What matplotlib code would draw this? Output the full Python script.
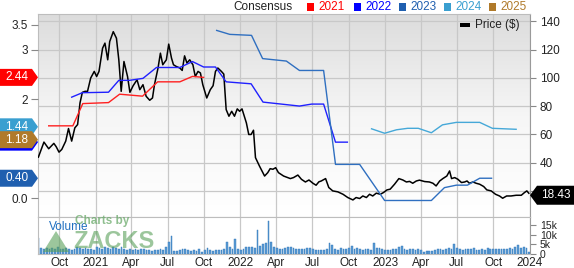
import matplotlib
matplotlib.use("Agg")
import matplotlib.pyplot as plt
from matplotlib.patches import Polygon, Rectangle
from matplotlib.colors import LinearSegmentedColormap
import numpy as np
import pandas as pd

plt.rcParams["font.family"] = ["Liberation Sans", "DejaVu Sans"]

# weekly-ish price readings ($)
price_dates = [
    "2020-08-09", "2020-08-23", "2020-09-04", "2020-09-17", "2020-09-23", "2020-09-30",
    "2020-10-07", "2020-10-17", "2020-10-24", "2020-11-01", "2020-11-09", "2020-11-16",
    "2020-11-22", "2020-11-28", "2020-12-05", "2020-12-11", "2020-12-19", "2020-12-28",
    "2021-01-03", "2021-01-09", "2021-01-18", "2021-01-24", "2021-01-31", "2021-02-05",
    "2021-02-14", "2021-02-22", "2021-02-28", "2021-03-06", "2021-03-13", "2021-03-22",
    "2021-03-28", "2021-04-05", "2021-04-15", "2021-04-22", "2021-04-30", "2021-05-08",
    "2021-05-17", "2021-05-24", "2021-05-29", "2021-06-07", "2021-06-13", "2021-06-19",
    "2021-06-28", "2021-07-04", "2021-07-11", "2021-07-16", "2021-07-23", "2021-08-01",
    "2021-08-07", "2021-08-13", "2021-08-19", "2021-08-26", "2021-09-03", "2021-09-09",
    "2021-09-16", "2021-09-22", "2021-09-28", "2021-10-08", "2021-10-17", "2021-10-24",
    "2021-10-30", "2021-11-05", "2021-11-14", "2021-11-20", "2021-11-26", "2021-12-03",
    "2021-12-10", "2021-12-17", "2021-12-24", "2021-12-30", "2022-01-05", "2022-01-16",
    "2022-01-22", "2022-01-28", "2022-02-03", "2022-02-08", "2022-02-18", "2022-03-03",
    "2022-03-11", "2022-03-17", "2022-03-24", "2022-03-31", "2022-04-07", "2022-04-20",
    "2022-05-07", "2022-05-15", "2022-05-26", "2022-06-04", "2022-06-14", "2022-06-23",
    "2022-07-03", "2022-07-11", "2022-07-18", "2022-07-24", "2022-08-04", "2022-08-12",
    "2022-08-22", "2022-09-04", "2022-09-17", "2022-09-29", "2022-10-12", "2022-10-20",
    "2022-10-29", "2022-11-06", "2022-11-15", "2022-11-23", "2022-12-01", "2022-12-10",
    "2022-12-20", "2022-12-28", "2023-01-06", "2023-01-14", "2023-01-25", "2023-02-05",
    "2023-02-15", "2023-02-24", "2023-03-04", "2023-03-12", "2023-03-21", "2023-03-29",
    "2023-04-11", "2023-04-23", "2023-05-02", "2023-05-10", "2023-05-19", "2023-05-27",
    "2023-06-06", "2023-06-13", "2023-06-18", "2023-06-26", "2023-07-04", "2023-07-13",
    "2023-07-21", "2023-07-27", "2023-08-02", "2023-08-11", "2023-08-19", "2023-08-28",
    "2023-09-07", "2023-09-15", "2023-09-26", "2023-10-07", "2023-10-17", "2023-10-25",
    "2023-11-04", "2023-11-15", "2023-11-28", "2023-12-11", "2023-12-19", "2023-12-25",
    "2023-12-30",
]
price_values = [
    44.0, 54.6, 49.9, 53.7, 51.3, 47.5,
    49.4, 55.3, 64.2, 55.3, 64.7, 67.0,
    82.3, 89.8, 90.5, 90.5, 99.9, 104.6,
    101.0, 104.6, 121.0, 124.6, 112.8, 125.7,
    132.7, 128.1, 112.8, 90.5, 111.6, 101.0,
    89.8, 94.4, 98.7, 91.7, 95.2, 87.0,
    84.2, 85.8, 95.2, 107.0, 117.5, 109.3,
    112.8, 123.9, 114.0, 109.3, 108.1, 107.0,
    105.3, 115.6, 110.5, 112.8, 109.3, 101.0,
    104.6, 103.5, 95.2, 85.8, 91.7, 94.5,
    104.6, 107.0, 104.6, 102.7, 77.6, 72.9,
    76.4, 72.9, 78.1, 76.4, 78.1, 68.2,
    60.0, 60.0, 63.0, 43.6, 37.7, 30.6,
    33.0, 35.8, 35.4, 36.5, 33.0, 30.6,
    28.8, 29.5, 31.3, 28.3, 26.4, 27.8,
    25.5, 24.1, 26.5, 27.1, 28.8, 22.5,
    20.1, 19.4, 17.7, 15.4, 13.7, 15.4,
    14.7, 16.5, 15.4, 17.7, 16.5, 18.5,
    17.7, 18.9, 20.8, 21.3, 24.8, 28.8,
    27.8, 26.4, 26.8, 25.5, 27.1, 27.7,
    26.7, 26.4, 25.5, 23.6, 27.1, 28.8,
    30.6, 34.2, 28.8, 29.5, 28.3, 26.0,
    26.4, 27.1, 25.5, 26.4, 25.5, 24.8,
    23.2, 20.8, 20.1, 17.7, 16.5, 14.9,
    16.5, 16.5, 17.0, 17.0, 18.9, 20.1,
    18.43,
]

# consensus EPS estimates
eps21_dates = ["2020-09-04", "2020-11-04", "2020-11-29", "2021-02-02", "2021-03-02",
               "2021-04-29", "2021-06-06", "2021-08-01", "2021-09-02", "2021-09-30"]
eps21_values = [1.46, 1.46, 1.91, 1.93, 2.10, 2.06, 2.35, 2.35, 2.46, 2.44]

eps22_dates = ["2020-11-01", "2020-11-28", "2021-02-02", "2021-02-28", "2021-03-27",
               "2021-04-30", "2021-06-03", "2021-08-01", "2021-09-02", "2021-09-30",
               "2021-10-30", "2021-11-26", "2022-01-28", "2022-02-27", "2022-05-30",
               "2022-06-30", "2022-07-30", "2022-08-29", "2022-09-28"]
eps22_values = [2.04, 2.13, 2.14, 2.38, 2.38, 2.42, 2.64, 2.64, 2.76, 2.65,
                2.65, 2.35, 2.31, 1.94, 1.86, 1.90, 1.90, 1.13, 1.13]

eps23_dates = ["2021-11-02", "2021-12-05", "2022-01-29", "2022-02-26", "2022-04-27",
               "2022-05-30", "2022-07-30", "2022-08-29", "2022-10-29", "2022-12-31",
               "2023-04-28", "2023-05-31", "2023-06-30", "2023-07-28", "2023-08-28",
               "2023-09-27"]
eps23_values = [3.39, 3.31, 3.29, 2.82, 2.77, 2.58, 2.58, 0.68, 0.68, -0.05,
                -0.05, 0.21, 0.26, 0.26, 0.40, 0.40]

eps24_dates = ["2022-11-28", "2022-12-31", "2023-01-30", "2023-02-27", "2023-03-26",
               "2023-04-28", "2023-05-26", "2023-06-30", "2023-08-28", "2023-09-29",
               "2023-11-28"]
eps24_values = [1.40, 1.31, 1.38, 1.41, 1.41, 1.32, 1.48, 1.53, 1.53, 1.41, 1.39]

# weekly volume (thousands), starting week of 2020-08-09
vol_start = "2020-08-09"
vol_k = [
    8.4, 3.0, 2.8, 3.2, 2.6, 3.0, 2.4, 3.4, 2.8, 2.6, 3.2, 2.5, 2.2, 2.6, 3.6, 3.0,
    2.4, 3.2, 2.8, 2.4, 2.2, 3.6, 3.0, 2.6, 3.8, 3.2, 2.8, 3.4, 3.0, 2.6, 3.6, 2.4,
    2.2, 2.6, 2.0, 2.4, 2.0, 2.8, 2.4, 1.8, 2.2, 1.6, 2.0, 2.2, 2.4, 2.0, 3.6, 6.0,
    9.5, 1.6, 1.4, 1.8, 2.4, 2.6, 2.2, 1.6, 2.0, 1.6, 2.4, 1.2, 1.8, 3.2, 2.2, 1.4,
    2.0, 2.2, 2.0, 2.4, 6.4, 3.8, 2.6, 7.6, 2.8, 1.8, 2.8, 3.4, 3.8, 3.6, 3.2, 12.2,
    4.2, 5.0, 5.6, 17.0, 6.4, 3.4, 3.2, 2.6, 2.8, 3.2, 3.4, 3.6, 3.0, 2.8, 2.4, 2.6,
    2.8, 3.0, 3.2, 2.4, 2.0, 2.0, 1.8, 2.2, 2.6, 5.8, 4.4, 2.8, 2.2, 3.2, 2.6, 2.8,
    3.0, 4.0, 2.6, 3.0, 2.4, 2.2, 2.6, 2.4, 2.2, 5.8, 3.2, 3.0, 2.4, 2.0, 1.8, 2.2,
    2.4, 2.8, 3.6, 4.2, 2.8, 2.2, 2.6, 2.6, 2.0, 2.4, 1.8, 1.2, 1.4, 1.6, 1.6, 2.0,
    2.6, 2.4, 2.0, 2.8, 3.2, 2.6, 5.0, 3.0, 2.4, 2.2, 2.6, 2.8, 2.4, 3.0, 2.2, 2.0,
    2.4, 2.0, 3.2, 2.6, 2.4, 2.6, 2.8, 2.4, 2.6, 2.4, 3.0, 2.6, 3.4, 4.6, 3.0, 3.8,
    3.2, 1.2,
]

# badge labels on the left (EPS) and right (price); drawn back to front
badge_years = ["2022", "2024", "2025", "2021", "2023"]
badge_values = [1.13, 1.44, 1.18, 2.44, 0.40]
hidden_badges = ["2022"]  # only its edge peeks out below 2025
last_price = 18.43

colors = {
    "2021": "#ff0000",
    "2022": "#0000ff",
    "2023": "#1f5faf",
    "2024": "#3a9fd0",
    "2025": "#b07a2a",
}
line_colors = {"2021": "#ff2020", "2022": "#2020ff", "2023": "#2f6fc0", "2024": "#45a8d8"}

W, H = 574, 268
fig = plt.figure(figsize=(W / 100, H / 100), dpi=100)

left, right = 38, 530
main_top, main_bot, vol_bot = 14, 217, 254
ax = fig.add_axes([left / W, 1 - main_bot / H, (right - left) / W, (main_bot - main_top) / H])
axv = fig.add_axes([left / W, 1 - vol_bot / H, (right - left) / W, (vol_bot - main_bot) / H])

xmin, xmax = pd.Timestamp("2020-08-08"), pd.Timestamp("2024-01-02")
grid_c = "#c8c8c8"
spine_c = "#bdbdbd"

# gradient background for main panel
cmap = LinearSegmentedColormap.from_list("bg", ["#dcdcdc", "#f6f6f6", "#ffffff"])
grad = np.linspace(0, 1, 256).reshape(-1, 1)
ax.imshow(grad, aspect="auto", cmap=cmap, extent=[0, 1, 0, 1], transform=ax.transAxes,
          zorder=0, origin="upper")

# price on the main axes (right ticks)
ax.plot(pd.to_datetime(price_dates), price_values, color="black", lw=1.1, zorder=3)
ax.set_xlim(xmin, xmax)
ax.set_ylim(1.63, 145.2)
ax.set_yticks([20, 40, 60, 80, 100, 120, 140])
ax.set_yticklabels(["", "40", "60", "80", "100", "120", "140"])  # 20 sits under the price badge

xticks = pd.to_datetime(["2020-10-01", "2021-01-01", "2021-04-01", "2021-07-01", "2021-10-01",
                         "2022-01-01", "2022-04-01", "2022-07-01", "2022-10-01", "2023-01-01",
                         "2023-04-01", "2023-07-01", "2023-10-01", "2024-01-01"])
xlabels = [d.strftime("%Y") if d.month == 1 else d.strftime("%b") for d in xticks]

ax.set_xticks(xticks)
ax.tick_params(axis="x", length=0, labelbottom=False)
ax.grid(True, color=grid_c, lw=0.9)
ax.set_axisbelow(True)
for s in ax.spines.values():
    s.set_color(spine_c)
ax.spines["right"].set_color("#9a9a9a")

# consensus on a twin axes (left ticks)
ax_eps = ax.twinx()
ax.yaxis.tick_right()
ax_eps.yaxis.tick_left()
ax.tick_params(axis="y", length=4, color="#888888", labelsize=8.5, labelcolor="#222222", pad=3)
ax_eps.set_ylim(-0.384, 3.722)
ax_eps.set_yticks([0, 2, 3, 3.5])
ax_eps.set_yticklabels(["0.0", "2", "3", "3.5"])
ax_eps.tick_params(axis="y", length=5, color="#888888", labelsize=8.5, labelcolor="#222222", pad=2)
for s in ax_eps.spines.values():
    s.set_visible(False)
for yr, dts, vals in [("2021", eps21_dates, eps21_values), ("2022", eps22_dates, eps22_values),
                      ("2023", eps23_dates, eps23_values), ("2024", eps24_dates, eps24_values)]:
    ax_eps.plot(pd.to_datetime(dts), vals, color=line_colors[yr], lw=1.0, zorder=2)
ax_eps.set_xlim(xmin, xmax)

# volume panel
vol_dates = pd.date_range(vol_start, periods=len(vol_k), freq="7D")
axv.bar(vol_dates, vol_k, width=4.5, color="#5b9bd5", edgecolor="#2e75b6", lw=0.3, zorder=2)
axv.set_xlim(xmin, xmax)
axv.set_ylim(0, 19)
axv.yaxis.tick_right()
axv.set_yticks([0, 5, 10, 15])
axv.set_yticklabels(["0", "5k", "10k", "15k"])
axv.tick_params(axis="y", length=4, color="#888888", labelsize=7.5, labelcolor="#222222", pad=3)
axv.set_xticks(xticks)
axv.set_xticklabels(xlabels)
axv.tick_params(axis="x", length=0, labelsize=8.5, labelcolor="#222222", pad=2)
axv.grid(True, axis="x", color=grid_c, lw=0.9)
axv.set_axisbelow(True)
for s in axv.spines.values():
    s.set_color(spine_c)
axv.spines["right"].set_color("#9a9a9a")
axv.set_facecolor("white")

# watermark
axv.text(0.022, 0.72, "Volume", transform=axv.transAxes, color="#1f6fc0", fontsize=8.5,
         va="center", ha="left", zorder=5)
fig.text(75 / W, 1 - 221 / H, "Charts by", color="#6aaa6a", alpha=0.75, fontsize=8.5,
         fontweight="bold", va="center", ha="left")
fig.text(73 / W, 1 - 241 / H, "ZACKS", color="#5aa05a", alpha=0.6, fontsize=17,
         fontweight="bold", va="center", ha="left")
fig.patches.append(Polygon([(43 / W, 1 - 252 / H), (69 / W, 1 - 252 / H), (56 / W, 1 - 231 / H)],
                           closed=True, transform=fig.transFigure, facecolor="#5aa05a",
                           alpha=0.6, edgecolor="none"))

# left badges, each text stacked right above its own shape
fig.canvas.draw()
for i, (yr, val) in enumerate(zip(badge_years, badge_values)):
    y = ax_eps.transData.transform((0, val))[1]
    hh = 8.5
    pts = [(0, y - hh), (32, y - hh), (38, y), (32, y + hh), (0, y + hh)]
    fig.patches.append(Polygon([(px / W, py / H) for px, py in pts], closed=True,
                               transform=fig.transFigure, facecolor=colors[yr], edgecolor="none",
                               zorder=10 + 2 * i))
    if yr not in hidden_badges:
        fig.text(17 / W, y / H, f"{val:.2f}", color="white", fontsize=8.5, ha="center",
                 va="center", zorder=11 + 2 * i)

# right price badge
y = ax.transData.transform((0, last_price))[1] - 2
pts = [(530, y), (537, y + 9.5), (574, y + 9.5), (574, y - 9.5), (537, y - 9.5)]
fig.patches.append(Polygon([(px / W, py / H) for px, py in pts], closed=True,
                           transform=fig.transFigure, facecolor="black", edgecolor="none", zorder=30))
fig.text(556 / W, y / H, f"{last_price:.2f}", color="white", fontsize=8.5, ha="center", va="center",
         zorder=31)

# top legend
fig.text(293 / W, 1 - 7 / H, "Consensus", color="#222222", fontsize=8.5, ha="right", va="center")
for yr, sx in zip(["2021", "2022", "2023", "2024", "2025"], [307, 354, 399, 444, 489]):
    fig.patches.append(Rectangle((sx / W, 1 - 10.5 / H), 7 / W, 7 / H, transform=fig.transFigure,
                                 facecolor=colors[yr], edgecolor="none"))
    fig.text((sx + 11) / W, 1 - 7 / H, yr, color=colors[yr], fontsize=8.5, ha="left", va="center")

# price legend
fig.patches.append(Rectangle((460 / W, 1 - 27 / H), 10 / W, 4 / H, transform=fig.transFigure,
                             facecolor="black", edgecolor="none"))
fig.text(475 / W, 1 - 25 / H, "Price ($)", color="#222222", fontsize=8.5, ha="left", va="center")

fig.savefig("out.png", dpi=100)
